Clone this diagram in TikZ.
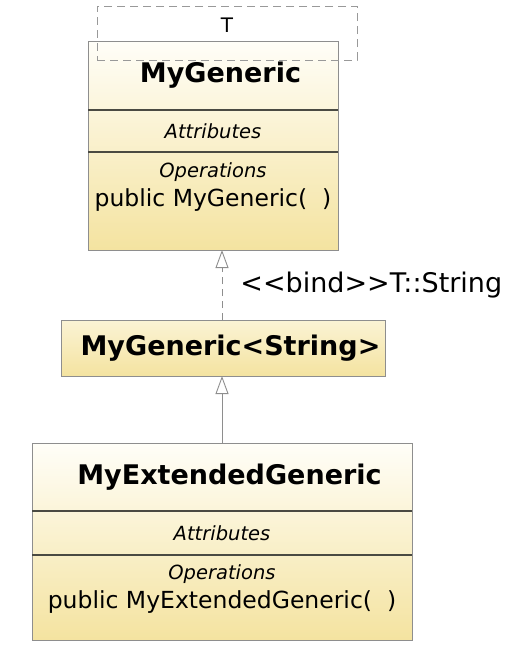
\documentclass[tikz,border=0pt]{standalone}
\usepackage{fontspec}
\setmainfont{DejaVu Sans}
\usetikzlibrary{arrows.meta,positioning,backgrounds}

\definecolor{umlTop}{HTML}{FFFEF8}
\definecolor{umlBottom}{HTML}{F4E3A0}
\definecolor{umlLine}{HTML}{8E8E8E}
\definecolor{umlSep}{HTML}{4A4A42}

\def\tipLen{18pt}
\def\nameShift{\hspace*{15pt}}

\begin{document}
\begin{tikzpicture}[
    x=1pt, y=-1pt,
    compart/.style={draw=umlLine, line width=0.8pt, inner sep=0, outer sep=0, minimum width=#1},
    namefont/.style={font=\fontsize{27}{31}\selectfont\bfseries},
    secfont/.style={font=\fontsize{19.5}{23}\selectfont\itshape, inner sep=0},
    opfont/.style={font=\fontsize{23.5}{27}\selectfont, inner sep=0},
    sep/.style={draw=umlSep, line width=1.1pt},
    inherit/.style={draw=umlLine, line width=0.9pt, -{Triangle[open, length=\tipLen, width=13pt, line width=0.9pt]}},
  ]
  \useasboundingbox (0,0) rectangle (530,648);

  % MyGeneric
  \node [compart=250pt, minimum height=69pt, namefont] (mg-name) at (213,75.5) {\nameShift MyGeneric};
  \node [compart=250pt, minimum height=42pt, below=0pt of mg-name, secfont] (mg-attr) {Attributes};
  \node [compart=250pt, minimum height=98pt, below=0pt of mg-attr] (mg-ops) {};
  \node [secfont, below=10pt of mg-ops.north] (mg-opslbl) {Operations};
  \node [opfont, below=7pt of mg-opslbl] (mg-method) {public MyGeneric(\ \ )};
  \draw [sep] (mg-attr.north west) -- (mg-attr.north east);
  \draw [sep] (mg-ops.north west) -- (mg-ops.north east);

  % template parameter
  \node [draw=umlLine!90, dash pattern=on 8pt off 5pt, line width=1pt, minimum width=260pt, minimum height=54pt, inner sep=0] (mg-tpl) at (227,33) {};
  \node [opfont, font=\fontsize{20}{23}\selectfont, below=12pt of mg-tpl.north] (mg-tplname) {T};

  % MyGeneric<String>
  \node [compart=324pt, minimum height=56pt, namefont] (mgs) at (223,348) {\nameShift MyGeneric<String>};

  % MyExtendedGeneric
  \node [compart=380pt, minimum height=68pt, namefont] (meg-name) at (222,477) {\nameShift MyExtendedGeneric};
  \node [compart=380pt, minimum height=44pt, below=0pt of meg-name, secfont] (meg-attr) {Attributes};
  \node [compart=380pt, minimum height=85pt, below=0pt of meg-attr] (meg-ops) {};
  \node [secfont, below=9pt of meg-ops.north] (meg-opslbl) {Operations};
  \node [opfont, below=7pt of meg-opslbl] (meg-method) {public MyExtendedGeneric(\ \ )};
  \draw [sep] (meg-attr.north west) -- (meg-attr.north east);
  \draw [sep] (meg-ops.north west) -- (meg-ops.north east);

  % gradients
  \begin{scope}[on background layer]
    \shade [top color=umlTop, bottom color=umlBottom] (mg-name.north west) rectangle (mg-ops.south east);
    \shade [top color=umlTop!60!umlBottom, bottom color=umlBottom] (mgs.north west) rectangle (mgs.south east);
    \shade [top color=umlTop, bottom color=umlBottom] (meg-name.north west) rectangle (meg-ops.south east);
  \end{scope}

  % relations
  \draw [inherit, dash pattern=on 7pt off 5pt] (mgs.north -| 222,0) -- node [right=18pt, font=\fontsize{27}{31}\selectfont, inner sep=0] (bindlbl) {<\kern0pt<bind>\kern0pt>T::String} (mg-ops.south -| 222,0);
  \draw [inherit] (meg-name.north) -- (meg-name.north |- mgs.south);
\end{tikzpicture}
\end{document}
